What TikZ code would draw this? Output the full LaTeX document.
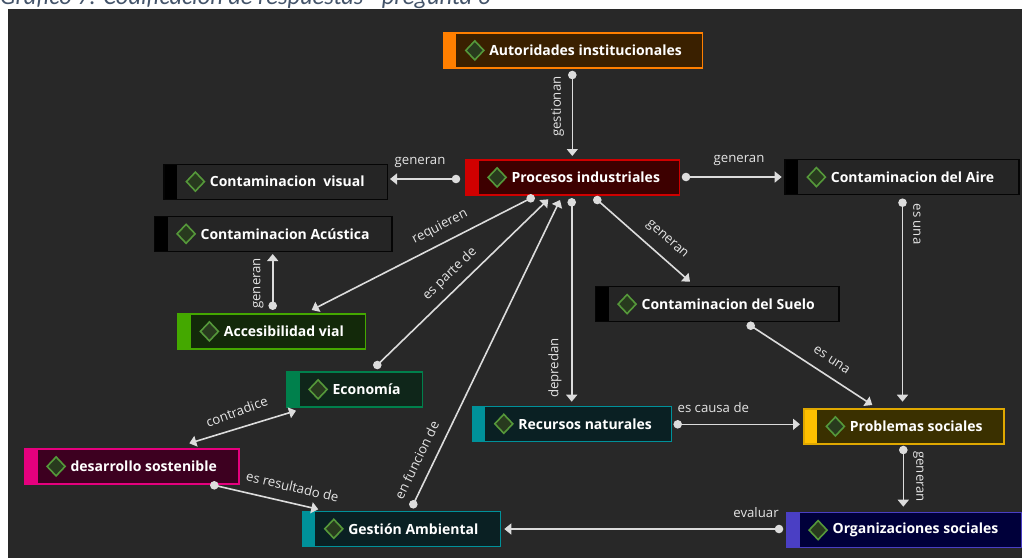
\documentclass[tikz,border=0pt]{standalone}
\usepackage{fontspec}
\setmainfont{Open Sans}
\newfontfamily\capfont{Carlito}
\usetikzlibrary{arrows.meta}
\definecolor{bg}{HTML}{282828}
\definecolor{capc}{HTML}{44546A}
\definecolor{linec}{HTML}{DCDCDC}
\definecolor{lblc}{HTML}{E4E4E4}
\definecolor{dgreen}{HTML}{55983A}
\definecolor{dfill}{HTML}{283A1E}
\definecolor{cOr}{HTML}{FF7F00}\definecolor{fOr}{HTML}{3A2000}
\definecolor{cRd}{HTML}{D00000}\definecolor{fRd}{HTML}{3D0000}
\definecolor{cBk}{HTML}{050505}\definecolor{fBk}{HTML}{252525}
\definecolor{cGn}{HTML}{44A800}\definecolor{fGn}{HTML}{13290A}
\definecolor{cEc}{HTML}{00804C}\definecolor{fEc}{HTML}{0F261A}
\definecolor{cMg}{HTML}{E6007E}\definecolor{fMg}{HTML}{3D0020}
\definecolor{cTl}{HTML}{00919A}\definecolor{fTl}{HTML}{0A2023}
\definecolor{cYl}{HTML}{FFC000}\definecolor{bYl}{HTML}{E0A800}\definecolor{fYl}{HTML}{3A3000}
\definecolor{cBl}{HTML}{4A3FC4}\definecolor{fBl}{HTML}{00003A}
\newcommand\bxt[2]{\makebox[#1pt][l]{\hspace{46pt}#2}}
\tikzset{
  cbox/.style n args={3}{draw=#2, fill=#3, line width=1.2pt, inner sep=0pt,
    minimum height=35pt, anchor=north west, text=white,
    font=\bfseries\fontsize{14}{16}\selectfont,
    path picture={
      \fill[#1] (path picture bounding box.north west) rectangle ([xshift=13pt]path picture bounding box.south west);
      \draw[line width=1.6pt, draw=dgreen, fill=dfill] ([xshift=31.5pt]path picture bounding box.west)
        +(-9,0) -- +(0,-9.5) -- +(9,0) -- +(0,9.5) -- cycle;}},
  conn/.style={draw=linec, line width=1.6pt, -{Triangle[width=11pt,length=7pt]}},
  lbl/.style={text=lblc, font=\fontsize{13.2}{15}\selectfont, inner sep=1pt},
}
\begin{document}
\begin{tikzpicture}[x=1pt,y=-1pt]
\useasboundingbox (0,0) rectangle (1022,558);
\clip (0,0) rectangle (1022,558);
\fill[white] (0,0) rectangle (1022,558);
\fill[bg] (8,9) rectangle (1022,558);
\node[anchor=base west, inner sep=0pt, text=capc] (cap) at (0,4.3)
  {\resizebox{490pt}{!}{\capfont\itshape Gráfico 7. Codificación de respuestas - pregunta 6}};

% nodes
\node[cbox={cOr}{cOr}{fOr}] (aut) at (442.7,32.3) {\bxt{259}{Autoridades institucionales}};
\node[cbox={cRd}{cRd}{fRd}] (proc) at (465,159.3) {\bxt{214}{Procesos industriales}};
\node[cbox={black}{cBk}{fBk}] (cvis) at (163.3,163.5) {\bxt{223.7}{Contaminacion\ \ visual}};
\node[cbox={black}{cBk}{fBk}] (cacu) at (154,215.7) {\bxt{237.3}{Contaminacion Acústica}};
\node[cbox={cGn}{cGn}{fGn}] (acc) at (177.3,313.3) {\bxt{187.7}{Accesibilidad vial}};
\node[cbox={black}{cBk}{fBk}] (aire) at (784.3,159) {\bxt{234}{Contaminacion del Aire}};
\node[cbox={black}{cBk}{fBk}] (suelo) at (595,286) {\bxt{243.3}{Contaminacion del Suelo}};
\node[cbox={cTl}{cTl}{fTl}] (rec) at (471.7,405.7) {\bxt{199}{Recursos naturales}};
\node[cbox={cYl}{bYl}{fYl}] (prob) at (803.3,408.3) {\bxt{200}{Problemas sociales}};
\node[cbox={cBl}{cBl}{fBl}] (org) at (786,512) {\bxt{235}{Organizaciones sociales}};
\node[cbox={cEc}{cEc}{fEc}] (eco) at (286,371.3) {\bxt{135.7}{Economía}};
\node[cbox={cMg}{cMg}{fMg}] (des) at (24,448.3) {\bxt{214.3}{desarrollo sostenible}};
\node[cbox={cTl}{cTl}{fTl}] (ges) at (301.7,510.7) {\bxt{198.3}{Gestión Ambiental}};

% connector end points
\coordinate (a1) at ([shift={(129.6,42.7)}]aut.north west);
\coordinate (a2) at ([shift={(107.3,-3.3)}]proc.north west);
\coordinate (b1) at ([shift={(-9,19.7)}]proc.north west);
\coordinate (b2) at ([shift={(226.7,15.5)}]cvis.north west);
\coordinate (c1) at ([shift={(221,17.7)}]proc.north west);
\coordinate (c2) at ([shift={(-2.6,18)}]aire.north west);
\coordinate (d1) at ([shift={(118.2,43.7)}]aire.north west);
\coordinate (d2) at ([shift={(99.2,-6.6)}]prob.north west);
\coordinate (e1) at ([shift={(155.7,39.7)}]suelo.north west);
\coordinate (e2) at ([shift={(69,-3.3)}]prob.north west);
\coordinate (f1) at ([shift={(132.3,40.7)}]proc.north west);
\coordinate (f2) at ([shift={(95,-4.3)}]suelo.north west);
\coordinate (g1) at ([shift={(106.7,43)}]proc.north west);
\coordinate (g2) at ([shift={(100,-4)}]rec.north west);
\coordinate (h1) at ([shift={(65.7,39)}]proc.north west);
\coordinate (h2) at ([shift={(134.4,-3.3)}]acc.north west);
\coordinate (i1) at ([shift={(91.3,-6.3)}]eco.north west);
\coordinate (i2) at ([shift={(83.3,40)}]proc.north west);
\coordinate (j1) at ([shift={(111.6,-6.4)}]ges.north west);
\coordinate (j2) at ([shift={(95,40.7)}]proc.north west);
\coordinate (k1) at ([shift={(100,41.7)}]prob.north west);
\coordinate (k2) at ([shift={(117.3,-5.3)}]org.north west);
\coordinate (l1) at ([shift={(206,18.6)}]rec.north west);
\coordinate (l2) at ([shift={(-3.3,16)}]prob.north west);
\coordinate (m1) at ([shift={(-7,17)}]org.north west);
\coordinate (m2) at ([shift={(202.6,18.3)}]ges.north west);
\coordinate (n1) at ([shift={(165.3,-5)}]des.north west);
\coordinate (n2) at ([shift={(10,39.4)}]eco.north west);
\coordinate (o1) at ([shift={(190.3,37)}]des.north west);
\coordinate (o2) at ([shift={(16.6,-1.4)}]ges.north west);
\coordinate (p1) at ([shift={(95.4,-7.6)}]acc.north west);
\coordinate (p2) at ([shift={(118.7,38.3)}]cacu.north west);

% connectors
\foreach \s/\t in {a1/a2,b1/b2,c1/c2,d1/d2,e1/e2,f1/f2,g1/g2,h1/h2,i1/i2,j1/j2,k1/k2,l1/l2,m1/m2,o1/o2,p1/p2}{
  \draw[conn] (\s) -- (\t);
  \fill[linec] (\s) circle[radius=4.3pt];
}
\draw[conn, {Triangle[width=11pt,length=7pt]}-{Triangle[width=11pt,length=7pt]}] (n1) -- (n2);

% labels
\node[lbl, rotate=90] (la) at (557.7,106.7) {gestionan};
\node[lbl] (lb) at (420,162) {generan};
\node[lbl] (lc) at (739,160) {generan};
\node[lbl, rotate=-90] (ld) at (917,224) {es una};
\node[lbl, rotate=-33] (le) at (831.7,360) {es una};
\node[lbl, rotate=-41] (lf) at (666.7,240) {generan};
\node[lbl, rotate=90] (lg) at (555,368) {depredan};
\node[lbl, rotate=27] (lh) at (440,227) {requieren};
\node[lbl, rotate=44] (li) at (450,274) {es parte de};
\node[lbl, rotate=64] (lj) at (416.7,460) {en funcion de};
\node[lbl, rotate=-90] (lk) at (918.3,476.7) {generan};
\node[lbl] (ll) at (713.3,407.7) {es causa de};
\node[lbl] (lm) at (756,512.7) {evaluar};
\node[lbl, rotate=20] (ln) at (236.7,411.7) {contradice};
\node[lbl, rotate=-13] (lo) at (292.5,486.7) {es resultado de};
\node[lbl, rotate=90] (lp) at (258.3,283.3) {generan};
\end{tikzpicture}
\end{document}
